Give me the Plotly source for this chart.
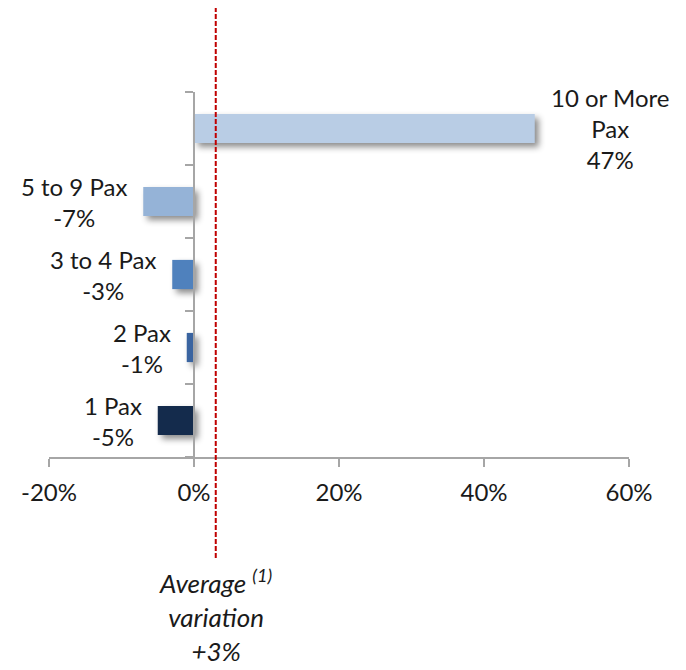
import plotly.graph_objects as go

# Year-on-year variation by party size
categories = ["1 Pax", "2 Pax", "3 to 4 Pax", "5 to 9 Pax", "10 or More Pax"]
label_names = ["1 Pax", "2 Pax", "3 to 4 Pax", "5 to 9 Pax", "10 or More<br>Pax"]
variation = [-5, -1, -3, -7, 47]
bar_colors = ["#142B4C", "#3A64A0", "#4F81BD", "#95B3D7", "#B9CDE5"]
average_variation = 3
x_ticks = [-20, 0, 20, 40, 60]

FONT = "Lato"
TEXT_COLOR = "#1A1A1A"
AXIS_COLOR = "#A6A6A6"

fig = go.Figure()
fig.add_trace(go.Bar(
    y=categories,
    x=variation,
    orientation="h",
    width=0.4,
    marker=dict(color=bar_colors, line=dict(width=0)),
    hoverinfo="skip",
))

# Category + value labels outside each bar end
for cat, name, val in zip(categories, label_names, variation):
    fig.add_annotation(
        x=val, y=cat, xref="x", yref="y",
        text=f"{name}<br>{val}%",
        showarrow=False,
        xanchor="left" if val > 0 else "right",
        xshift=14 if val > 0 else -14,
        align="center",
        font=dict(family=FONT, size=24, color=TEXT_COLOR),
    )

# Average variation reference line
fig.add_shape(
    type="line", xref="x", yref="paper",
    x0=average_variation, x1=average_variation, y0=-0.277, y1=1.23,
    line=dict(color="#C00000", width=2, dash="5px,2px"),
)
fig.add_annotation(
    x=average_variation, xref="x", yref="paper", y=-0.288,
    yanchor="top", xanchor="center", showarrow=False, align="center",
    text=f"<i>Average <sup>(1)</sup><br>variation<br>+{average_variation}%</i>",
    font=dict(family=FONT, size=26, color=TEXT_COLOR),
)

fig.update_layout(
    template="none",
    width=686, height=670,
    margin=dict(l=49, r=57, t=92, b=213, autoexpand=False),
    paper_bgcolor="white", plot_bgcolor="white",
    showlegend=False,
    font=dict(family=FONT, color=TEXT_COLOR),
    xaxis=dict(
        range=[-20, 60], tickvals=x_ticks,
        ticktext=[f"{v}%" for v in x_ticks],
        showgrid=False, zeroline=False, automargin=False,
        showline=True, linecolor=AXIS_COLOR, linewidth=1.5,
        ticks="outside", ticklen=8, tickcolor=AXIS_COLOR, tickwidth=1.5,
        ticklabelstandoff=5,
        tickfont=dict(family=FONT, size=24, color=TEXT_COLOR),
        fixedrange=True,
    ),
    yaxis=dict(
        categoryorder="array", categoryarray=categories,
        range=[-0.5, 4.5],
        anchor="free", position=0.25, automargin=False,
        showticklabels=False, showgrid=False, zeroline=False,
        showline=True, linecolor=AXIS_COLOR, linewidth=1.5,
        ticks="outside", tickson="boundaries", ticklen=8,
        tickcolor=AXIS_COLOR, tickwidth=1.5,
        fixedrange=True,
    ),
)

# Soft drop shadow behind the bars
shadow_js = """
document.querySelectorAll('.trace.bars .point path').forEach(function(p){
  p.style.filter = 'drop-shadow(4px 4px 3px rgba(0,0,0,0.45))';
});
"""

fig.write_html("out.html", post_script=shadow_js, config={"displayModeBar": False})
